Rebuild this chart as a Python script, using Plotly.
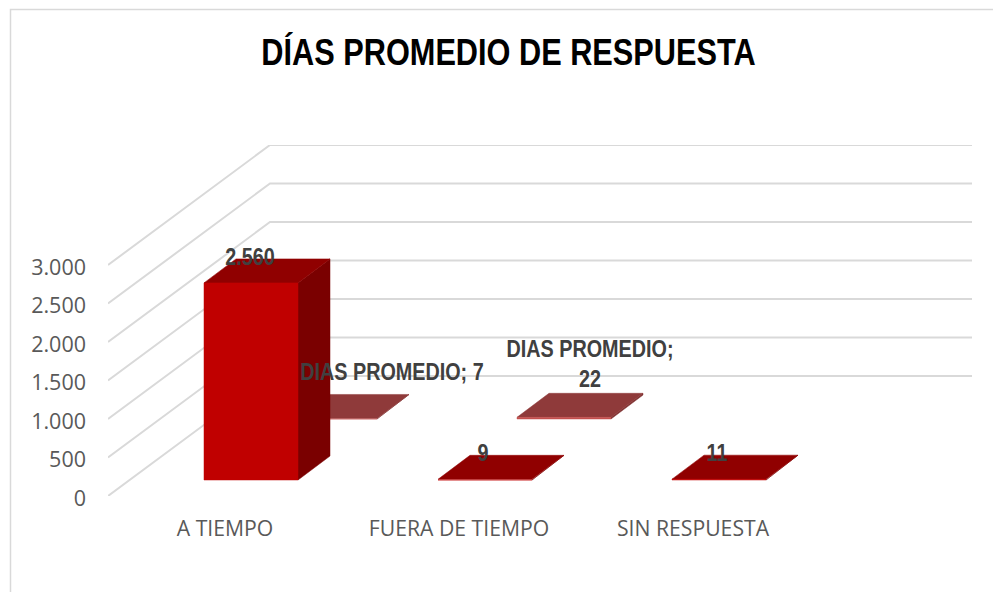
import plotly.graph_objects as go

TITLE = "DÍAS PROMEDIO DE RESPUESTA"
categories = ["A TIEMPO", "FUERA DE TIEMPO", "SIN RESPUESTA"]
front_values = [2560, 9, 11]
back_series_name = "DIAS PROMEDIO"
back_values = [7, 22, None]
y_ticks = [0, 500, 1000, 1500, 2000, 2500, 3000]
y_tick_labels = ["0", "500", "1.000", "1.500", "2.000", "2.500", "3.000"]
front_labels = ["2.560", "9", "11"]
back_labels = ["DIAS PROMEDIO; 7", "DIAS PROMEDIO;<br>22", None]

W, H = 993, 592
L, R, T, B = 108, 972, 145, 496
PX_CAT = 234.0
PX_VAL = (B - 265) / 3000.0
DX, DY = 162, 120
x_lo = -0.5
x_hi = x_lo + (R - L) / PX_CAT
y_top = (B - T) / PX_VAL

GRID = "#D9D9D9"
TXT = "#595959"
LBL = "#404040"
NARROW = "Liberation Sans"
AXF = "Open Sans"


def X(i, px=0):
    return i + px / PX_CAT


def Y(v, px=0):
    return v + px / PX_VAL


fig = go.Figure()


def poly(xs, ys, color, edge=None):
    fig.add_trace(go.Scatter(x=xs, y=ys, mode="lines", fill="toself", fillcolor=color,
                             line=dict(color=edge or color, width=0.5),
                             hoverinfo="skip", showlegend=False))


for t in y_ticks:
    fig.add_trace(go.Scatter(
        x=[x_lo, x_lo + DX / PX_CAT, x_hi],
        y=[t, Y(t, DY), Y(t, DY)],
        mode="lines", line=dict(color=GRID, width=2),
        hoverinfo="skip", showlegend=False))

HALF = 47
DEPTH_X, DEPTH_Y = 32, 24


def box(i, v, sx, sy, c_front, c_top, c_side):
    l, r = sx - HALF, sx + HALF
    poly([X(i, r), X(i, r + DEPTH_X), X(i, r + DEPTH_X), X(i, r), X(i, r)],
         [Y(0, sy), Y(0, sy + DEPTH_Y), Y(v, sy + DEPTH_Y), Y(v, sy), Y(0, sy)], c_side)
    poly([X(i, l), X(i, r), X(i, r + DEPTH_X), X(i, l + DEPTH_X), X(i, l)],
         [Y(v, sy), Y(v, sy), Y(v, sy + DEPTH_Y), Y(v, sy + DEPTH_Y), Y(v, sy)], c_top)
    poly([X(i, l), X(i, r), X(i, r), X(i, l), X(i, l)],
         [Y(0, sy), Y(0, sy), Y(v, sy), Y(v, sy), Y(0, sy)], c_front)


for i, v in enumerate(back_values):
    if v is not None:
        box(i, v, 105, 77, "#C4504F", "#8F3A3A", "#7F3030")
for i, v in enumerate(front_values):
    box(i, v, 26, 16, "#C00000", "#900000", "#7A0000")

front_off = [(-1, 24), (-2, 24), (-2, 24)]
back_off = [(62, 44), (26, 51), None]
for i, (v, s) in enumerate(zip(front_values, front_labels)):
    fig.add_trace(go.Scatter(x=[X(i, 26 + front_off[i][0])], y=[Y(v, 16 + front_off[i][1])],
                             mode="text", text=[s], textposition="middle center",
                             textfont=dict(family=NARROW, size=23, color=LBL, weight="bold"),
                             hoverinfo="skip", showlegend=False))
for i, (v, s) in enumerate(zip(back_values, back_labels)):
    if v is None:
        continue
    fig.add_trace(go.Scatter(x=[X(i, 105 + back_off[i][0])], y=[Y(v, 77 + back_off[i][1])],
                             mode="text", text=[s], textposition="middle center",
                             textfont=dict(family=NARROW, size=23, color=LBL, weight="bold"),
                             hoverinfo="skip", showlegend=False))

fig.update_layout(
    width=W, height=H, autosize=False, paper_bgcolor="white", plot_bgcolor="white",
    margin=dict(l=L, r=W - R, t=T, b=H - B, pad=0), showlegend=False,
    title=dict(text=f"<b>{TITLE}</b>", x=508.5 / W, xanchor="center", xref="container",
               y=1 - 52 / H, yanchor="middle", yref="container",
               font=dict(family=NARROW, size=37, color="#000000")),
    xaxis=dict(range=[x_lo, x_hi], tickvals=list(range(len(categories))), ticktext=categories,
               showgrid=False, zeroline=False, showline=False, ticks="", ticklabelstandoff=18,
               tickfont=dict(family=AXF, size=21.2, color=TXT), fixedrange=True),
    yaxis=dict(range=[0, y_top], tickvals=y_ticks, ticktext=y_tick_labels,
               showgrid=False, zeroline=False, showline=False, ticks="", ticklabelstandoff=21,
               ticklabelshift=2,
               tickfont=dict(family=AXF, size=21.5, color=TXT), fixedrange=True),
    shapes=[dict(type="path", xref="paper", yref="paper",
                 path=f"M {(10.5 - L) / (R - L)} {(B - 592) / (B - T)} "
                      f"L {(10.5 - L) / (R - L)} {(B - 9.5) / (B - T)} "
                      f"L {(993 - L) / (R - L)} {(B - 9.5) / (B - T)}",
                 line=dict(color=GRID, width=1.5))],
)
post = """
document.body.style.margin = '0';
document.body.style.overflow = 'hidden';
document.querySelector('.gtitle').style.cssText += ';transform-box:fill-box;transform-origin:center;transform:scaleX(0.83)';
document.querySelectorAll('.textpoint text').forEach(function (t) {
  t.style.transformBox = 'fill-box';
  t.style.transformOrigin = 'center';
  t.style.transform = 'scaleX(0.86)';
});
"""
fig.write_html("out.html", config={"displayModeBar": False}, post_script=post)
